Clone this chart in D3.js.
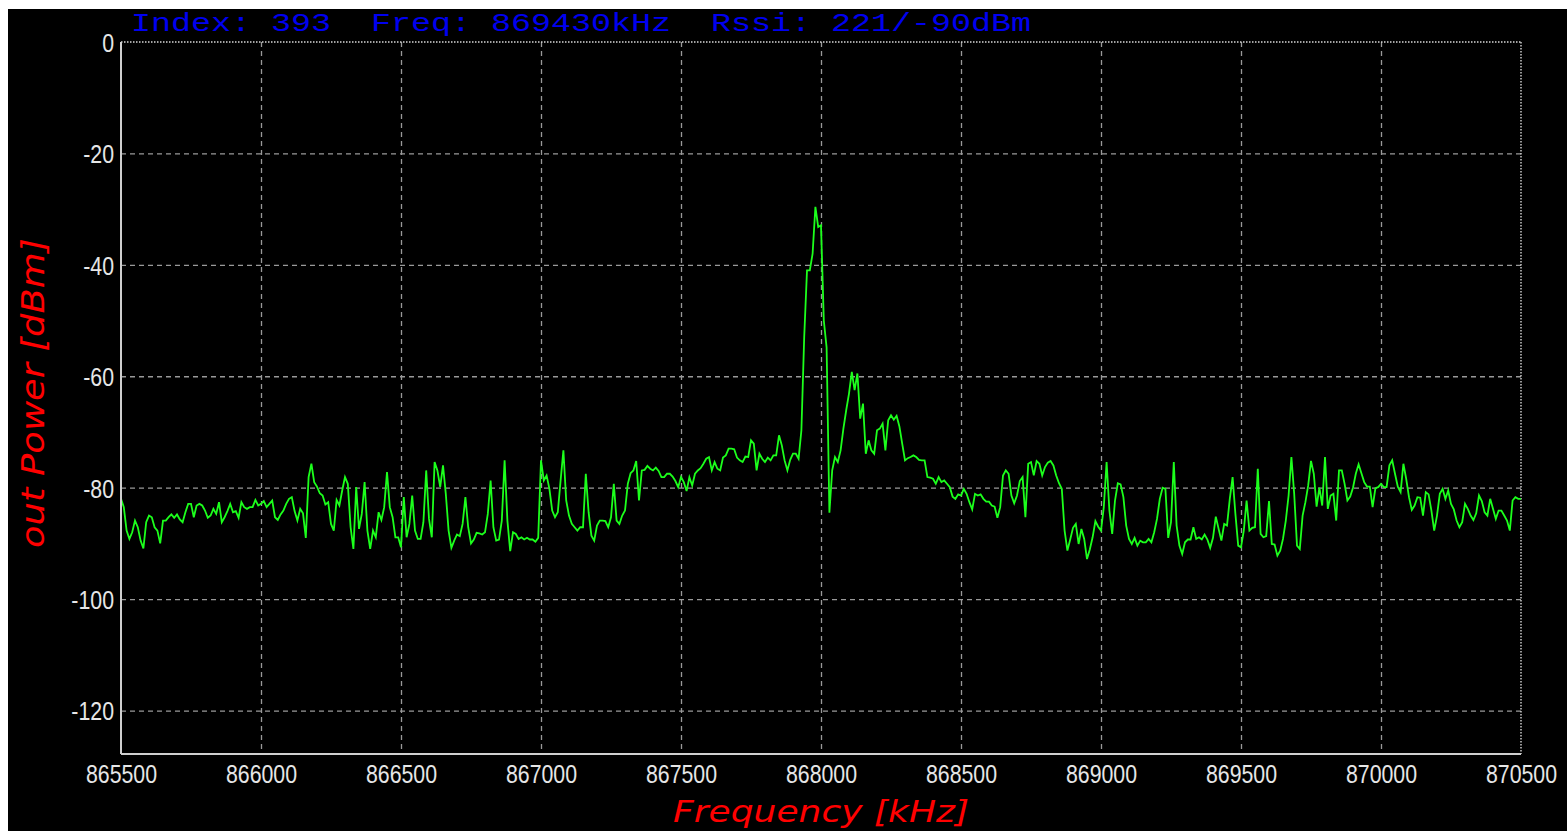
<!DOCTYPE html>
<html>
<head>
<meta charset="utf-8">
<script src="https://cdn.jsdelivr.net/npm/d3@7"></script>
<style>
  html, body { margin: 0; padding: 0; background: #fff; overflow: hidden; }
</style>
</head>
<body>
<div id="chart"></div>
<script>
// sweep: 865500 kHz .. 870500 kHz, one reading every 10 kHz
var freqStart = 865500,
    freqStep = 10;

var power = [
  -82, -83.5, -87.7, -89.2, -88, -85.9, -87.1, -89.5, -90.9, -86.2,
  -85, -85.3, -87.1, -87.7, -90, -85.9, -85.9, -85.3, -84.8, -85.4,
  -84.8, -85.7, -86.2, -84.4, -82.9, -82.9, -85.3, -83.2, -82.9, -83.2,
  -84.1, -85.4, -85, -83.8, -84.7, -82.6, -86.2, -85.3, -84.2, -82.9,
  -84.4, -84.2, -85.4, -82.6, -83.5, -83.8, -83.5, -83.5, -82.2, -83.2,
  -82.9, -82.4, -83.5, -82.9, -82.3, -85.3, -85.8, -84.8, -84.1, -82.9,
  -82, -81.7, -84.2, -85.9, -83.8, -84.6, -89, -78.1, -75.7, -79,
  -79.8, -81, -81.4, -83, -82.6, -86.5, -87.7, -82.2, -83.2, -80.5,
  -78.1, -79.3, -87.1, -91,
  -79.9, -87.4, -84.7, -79, -87.7, -91, -87.7, -88.9, -84.4, -85.8,
  -83.5, -77.2, -83.5, -85.3, -88.9, -88.9, -90.7, -81.7, -88.9, -86.5,
  -81.4, -87.7, -89.2, -89.2, -86.2, -76.9, -85.6, -88.9, -75.4, -76.9,
  -79.9, -76, -81.1, -87.7, -90.8, -89.5, -88.4, -88.7, -86.5, -81.7,
  -87.1, -90, -89.3, -88.1, -88.2, -88.4, -88, -84.7, -78.7, -87.1,
  -89.5, -89.3, -85.9, -75.1, -85.9, -91.4, -88, -88.3, -89.2, -88.9,
  -89.3, -89, -89.3, -89.3, -89.7, -89, -75.1, -78.7, -77.8, -80.2,
  -84.1, -85.3, -84.4, -78.7, -73.3, -82.3, -85, -86.5, -87.1, -87.7,
  -87.1, -87.1,
  -77.5, -84.4, -88.6, -89.5, -86.8, -85.9, -85.9, -86, -87.1, -85.3,
  -79.3, -85.9, -86.5, -85, -84.1, -79.3, -77.4, -76.9, -75.2, -82.3,
  -76.9, -76.8, -76.1, -76.6, -76.9, -76.4, -77, -78.1, -78.1, -77.5,
  -77.5, -78, -78.8, -79.9, -78.1, -79, -80.6, -78.1, -79.6, -77.5,
  -76.9, -76.5, -75.7, -74.8, -74.5, -76.9, -75.4, -76.6, -76.9, -74.6,
  -74.2, -73, -73, -73.1, -74.6, -75.1, -75.4, -74.4, -74.5, -71.5,
  -72.1, -76.9, -73.9, -74.8, -75.4, -74.6, -75.1, -74.2, -74.2, -70.6,
  -72.4, -75.1, -76.9, -75, -73.9, -73.9, -74.8, -69.7,
  -53, -41, -41, -38, -29.6, -33.2, -32.9, -50, -54.8, -84.5,
  -76.9, -74.5, -75.4, -73.3, -69.4, -66.1, -63.1, -59.2, -62.5, -59.5,
  -67.6, -64.9, -73.9, -71.5, -73.3, -73.9, -69.7, -69.4, -68.5, -73.3,
  -67.9, -67, -67.8, -67.1, -69, -72.1, -75.1, -74.7, -74.5, -74.2,
  -74.5, -75, -75.1, -75.1, -78.1, -78.2, -78.4, -79.3, -78.1, -79,
  -78.7, -79.3, -79.9, -81.6, -82, -81.2,
  -81.4, -80.2, -81.1, -82.6, -83.9, -81.1, -81.4, -81.2, -82, -82.5,
  -82.5, -83.2, -83.4, -85.4, -83.5, -77.8, -76.9, -77.5, -81.4, -82.8,
  -81.4, -78.8, -78.1, -85.3, -75.7, -75.4, -77.8, -75.2, -75.7, -77.8,
  -76.3, -75.5, -75.2, -76, -77.8, -79.2, -80.2, -87.7, -91.3, -89.3,
  -87.2, -86.5, -90.1, -87.4, -89.2, -92.8, -91.1, -88.9, -86, -87,
  -87.7, -83.5, -75.4, -84.1, -88.3, -82.3, -79.2, -79.4, -81.7, -86.8,
  -89.2, -90.1, -89, -90.4, -89.5, -89.8, -89.8, -89.2, -89.8, -88,
  -85.6, -82, -80, -80.2, -89, -86.2, -75.4, -86.8, -90.4, -91.9,
  -89.8, -89.3, -89.3, -87.1, -89.2, -88.9, -89.3, -88.4, -89.3, -90.8,
  -89, -85.2, -87.4, -89.5, -86.5, -86.8, -82, -78.1, -84.7, -90.4,
  -90.7, -87.7, -82.3, -87.7, -87.2, -87.1, -76.6, -88.3, -88.9, -88.7,
  -82.4, -90.1, -90.2, -92.2, -91.3, -89.2, -85.9, -81.4, -74.5, -81.1,
  -90.4, -91, -85, -82.6, -79.6, -75.2, -77.5, -83.4, -80, -83.2,
  -74.5, -83.8, -81.4, -81.1, -85.9, -76.9, -76.9, -79.3, -82.3, -81.6,
  -80, -77.5, -75.8, -77.4, -79, -79.8, -79.8, -83.5, -80.1, -79.9,
  -79.3, -79.9, -79.9, -76, -75.1, -77.5, -79.8, -80.8, -75.7, -78.4,
  -81.7, -84, -83.2, -81.7, -81.8, -85, -80.8, -81.2, -84.1, -87.7,
  -85, -81.1, -80.2, -82, -80.5, -82.9, -83.9, -85.9, -87.1, -86.2,
  -82.9, -83.8, -85, -85.8, -84.6, -81.4, -82.4, -84.4, -85, -82,
  -83.8, -85.6, -84.1, -84.1, -85, -85.9, -87.7, -82.3, -81.7, -82,
  -82
];

var xTicks = [865500, 866000, 866500, 867000, 867500, 868000, 868500, 869000, 869500, 870000, 870500];
var yTicks = [0, -20, -40, -60, -80, -100, -120];

var header = "Index: 393  Freq: 869430kHz  Rssi: 221/-90dBm";
var xTitle = "Frequency [kHz]";
var yTitle = "out Power [dBm]";

var width = 1567,
    height = 831;

var margin = {top: 42, right: 46, bottom: 77, left: 121},
    w = width - margin.left - margin.right,
    h = height - margin.top - margin.bottom;

var data = power.map(function(v, i) { return {f: freqStart + i * freqStep, p: v}; });

// plain hyphen for negatives, like the original software
var fmt = function(d) { return String(d); };

var svg = d3.select("#chart").append("svg")
    .attr("width", width)
    .attr("height", height)
    .style("display", "block");

svg.append("rect").attr("width", width).attr("height", height).attr("fill", "#fff");
svg.append("rect").attr("x", 8).attr("y", 9)
    .attr("width", width - 8).attr("height", height - 9).attr("fill", "#000");

var x = d3.scaleLinear().domain([865500, 870500]).range([0, w]),
    y = d3.scaleLinear().domain([-127.8, 0]).range([h, 0]);

var g = svg.append("g")
    .attr("transform", "translate(" + margin.left + "," + margin.top + ")");

// grid
g.append("g")
    .attr("class", "grid")
    .call(d3.axisBottom(x).tickValues(xTicks.slice(1, -1)).tickSize(h).tickFormat(""))
    .call(function(s) { s.select(".domain").remove(); });
g.append("g")
    .attr("class", "grid")
    .call(d3.axisLeft(y).tickValues(yTicks.slice(1)).tickSize(-w).tickFormat(""))
    .call(function(s) { s.select(".domain").remove(); });
g.selectAll(".grid line")
    .attr("stroke", "#999")
    .attr("stroke-width", 1.3)
    .attr("stroke-dasharray", "5,4");

// top and right frame, dotted
g.append("line").attr("x1", 0).attr("x2", w).attr("y1", 0).attr("y2", 0)
    .attr("stroke", "#d8d8d8").attr("stroke-width", 1.4).attr("stroke-dasharray", "1.5,1.5");
g.append("line").attr("x1", w).attr("x2", w).attr("y1", 0).attr("y2", h)
    .attr("stroke", "#d8d8d8").attr("stroke-width", 1.4).attr("stroke-dasharray", "1.5,1.5");

// trace
g.append("clipPath").attr("id", "clip")
  .append("rect").attr("width", w).attr("height", h);

var line = d3.line()
    .x(function(d) { return x(d.f); })
    .y(function(d) { return y(d.p); });

g.append("path")
    .datum(data)
    .attr("clip-path", "url(#clip)")
    .attr("fill", "none")
    .attr("stroke", "#1cff1c")
    .attr("stroke-width", 1.8)
    .attr("stroke-linejoin", "miter")
    .attr("d", line);

// axes
var xAxis = g.append("g")
    .attr("transform", "translate(0," + h + ")")
    .call(d3.axisBottom(x).tickValues(xTicks).tickSize(0).tickFormat(fmt));
xAxis.selectAll("text")
    .attr("y", 29)
    .attr("dy", null);

var yAxis = g.append("g")
    .call(d3.axisLeft(y).tickValues(yTicks).tickSize(0).tickFormat(fmt));
yAxis.selectAll("text")
    .attr("x", -8.5)
    .attr("dy", "0.36em");

g.selectAll(".domain").remove();
g.selectAll(".tick text")
    .attr("fill", "#e6e6e6")
    .attr("transform", "scale(0.82,1)")
    .style("font-family", "'Liberation Sans', Arial, sans-serif")
    .style("font-size", "26px");

g.append("line").attr("x1", 0).attr("x2", 0).attr("y1", 0).attr("y2", h)
    .attr("stroke", "#cfcfcf").attr("stroke-width", 2);
g.append("line").attr("x1", 0).attr("x2", w).attr("y1", h).attr("y2", h)
    .attr("stroke", "#cfcfcf").attr("stroke-width", 2);

// texts
svg.append("text")
    .attr("x", 131)
    .attr("y", 31)
    .attr("fill", "#0000f0")
    .attr("textLength", 900)
    .attr("lengthAdjust", "spacingAndGlyphs")
    .style("white-space", "pre")
    .style("font-family", "'Liberation Mono', 'Courier New', monospace")
    .style("font-size", "25px")
    .text(header);

svg.append("text")
    .attr("x", margin.left + w / 2)
    .attr("y", 822)
    .attr("text-anchor", "middle")
    .attr("fill", "#ff0000")
    .attr("textLength", 296)
    .attr("lengthAdjust", "spacingAndGlyphs")
    .style("font-family", "'DejaVu Sans', Verdana, sans-serif")
    .style("font-style", "italic")
    .style("font-size", "31px")
    .text(xTitle);

svg.append("text")
    .attr("transform", "translate(44,393) rotate(-90)")
    .attr("text-anchor", "middle")
    .attr("fill", "#ff0000")
    .attr("textLength", 310)
    .attr("lengthAdjust", "spacingAndGlyphs")
    .style("font-family", "'DejaVu Sans', Verdana, sans-serif")
    .style("font-style", "italic")
    .style("font-size", "32px")
    .text(yTitle);
</script>
</body>
</html>
